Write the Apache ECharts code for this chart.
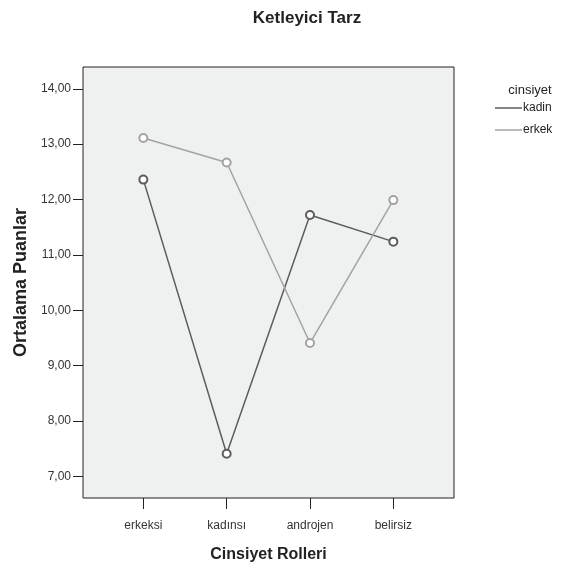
<!DOCTYPE html>
<html>
<head>
<meta charset="utf-8">
<script src="https://cdn.jsdelivr.net/npm/echarts@6/dist/echarts.min.js"></script>
<style>html,body{margin:0;padding:0;background:#fff;}#c{width:563px;height:568px;}</style>
</head>
<body>
<div id="c"></div>
<script>
var categories = ['erkeksi', 'kadınsı', 'androjen', 'belirsiz'];
var kadinValues = [12.36, 7.41, 11.72, 11.24];
var erkekValues = [13.11, 12.67, 9.41, 11.99];
var yTicks = [7, 8, 9, 10, 11, 12, 13, 14];
var xTicks = [0, 1, 2, 3];

function pairs(vals) { return vals.map(function (v, i) { return [i, v]; }); }

var chart = echarts.init(document.getElementById('c'));
var font = 'Liberation Sans, Arial, sans-serif';
chart.setOption({
  animation: false,
  textStyle: { fontFamily: font },
  title: [
    { text: 'Ketleyici Tarz', left: 302, top: 5, textAlign: 'center',
      textStyle: { fontSize: 17, fontWeight: 'bold', color: '#222', fontFamily: font } },
    { text: 'cinsiyet', left: 525, top: 79, textAlign: 'center',
      textStyle: { fontSize: 13, fontWeight: 'normal', color: '#222', fontFamily: font } }
  ],
  legend: {
    orient: 'vertical', left: 490, top: 97, itemWidth: 27, itemHeight: 1.5, itemGap: 10,
    icon: 'rect',
    textStyle: { fontSize: 12, color: '#222', fontFamily: font, padding: [0, 0, 0, -4] },
    data: ['kadin', 'erkek']
  },
  grid: { left: 83, right: 109, top: 67, bottom: 65, show: true,
    backgroundColor: '#eff0f0', borderColor: '#222', borderWidth: 1 },
  xAxis: {
    type: 'value', min: -0.724, max: 3.728,
    name: 'Cinsiyet Rolleri', nameLocation: 'middle', nameGap: 49,
    nameTextStyle: { fontSize: 16, fontWeight: 'bold', color: '#222', fontFamily: font },
    axisLine: { show: false, onZero: false },
    splitLine: { show: false },
    axisTick: { show: true, length: 11, customValues: xTicks, lineStyle: { color: '#222' } },
    axisLabel: { customValues: xTicks, margin: 22, fontSize: 12, color: '#333',
      formatter: function (v) { return categories[Math.round(v)]; } }
  },
  yAxis: {
    type: 'value', min: 6.612, max: 14.393,
    name: 'Ortalama Puanlar', nameLocation: 'middle', nameGap: 47,
    nameTextStyle: { fontSize: 18, fontWeight: 'bold', color: '#222', fontFamily: font },
    axisLine: { show: false, onZero: false },
    splitLine: { show: false },
    axisTick: { show: true, length: 10, customValues: yTicks, lineStyle: { color: '#222' } },
    axisLabel: { customValues: yTicks, margin: 12, fontSize: 12, color: '#333',
      formatter: function (v) { return v.toFixed(2).replace('.', ','); } }
  },
  series: [
    { name: 'kadin', type: 'line', data: pairs(kadinValues), symbol: 'emptyCircle', symbolSize: 8,
      itemStyle: { color: '#5c5c5c', borderWidth: 1.5 }, lineStyle: { color: '#5c5c5c', width: 1.5 } },
    { name: 'erkek', type: 'line', data: pairs(erkekValues), symbol: 'emptyCircle', symbolSize: 8,
      itemStyle: { color: '#a3a3a3', borderWidth: 1.5 }, lineStyle: { color: '#a3a3a3', width: 1.5 } }
  ]
});
</script>
</body>
</html>
